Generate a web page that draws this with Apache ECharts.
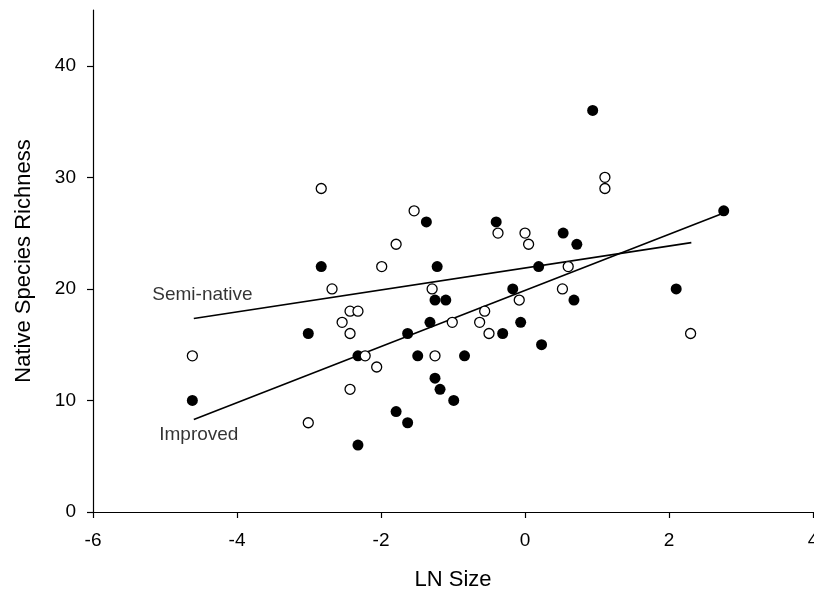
<!DOCTYPE html>
<html>
<head>
<meta charset="utf-8">
<script src="https://cdn.jsdelivr.net/npm/echarts@6/dist/echarts.min.js"></script>
<style>
html,body{margin:0;padding:0;background:#fff;}
#chart{width:814px;height:595px;}
</style>
</head>
<body>
<div id="chart"></div>
<script>
// Improved pastures (filled circles): [LN Size, Native Species Richness]
const improvedPoints = [
  [-4.62,10],[-3.01,16],[-2.83,22],[-2.32,14],[-2.32,6],[-1.79,9],[-1.63,8],[-1.63,16],
  [-1.49,14],[-1.37,26],[-1.32,17],[-1.25,19],[-1.25,12],[-1.22,22],[-1.18,11],[-1.10,19],
  [-0.99,10],[-0.84,14],[-0.40,26],[-0.31,16],[-0.17,20],[-0.06,17],[0.19,22],[0.23,15],
  [0.53,25],[0.68,19],[0.72,24],[0.94,36],[2.10,20],[2.76,27]
];
// Semi-native pastures (open circles)
const semiNativePoints = [
  [-4.62,14],[-3.01,8],[-2.83,29],[-2.68,20],[-2.54,17],[-2.43,18],[-2.43,16],[-2.43,11],
  [-2.32,18],[-2.22,14],[-2.06,13],[-1.99,22],[-1.79,24],[-1.54,27],[-1.29,20],[-1.25,14],
  [-1.01,17],[-0.63,17],[-0.56,18],[-0.50,16],[-0.375,25],[-0.08,19],[0.0,25],[0.05,24],
  [0.52,20],[0.60,22],[1.11,30],[1.11,29],[2.30,16]
];
// Regression line end points
const improvedFit = [[-4.6,8.3],[2.76,26.8]];
const semiNativeFit = [[-4.6,17.35],[2.31,24.15]];
// Line labels: [text, x, y]
const lineLabels = [["Semi-native",-4.48,19.5],["Improved",-4.53,6.9]];
// Axes
const xTicks = [-6,-4,-2,0,2,4];
const yTicks = [0,10,20,30,40];
const xRange = [-6,4];
const yRange = [0,45];
const xTitle = "LN Size";
const yTitle = "Native Species Richness";

const FONT = "Liberation Sans, Arial, Helvetica, sans-serif";
const chart = echarts.init(document.getElementById('chart'), null, {renderer:'canvas'});

const axisCommon = {
  axisLine:{show:true,onZero:false,lineStyle:{color:'#000',width:1.2}},
  axisTick:{show:true,inside:false,length:6,lineStyle:{color:'#000',width:1.2}},
  splitLine:{show:false},
  nameLocation:'middle',
  nameTextStyle:{fontFamily:FONT,fontSize:22,color:'#000'}
};

chart.setOption({
  animation:false,
  backgroundColor:'#fff',
  grid:{left:93,right:1,top:10,bottom:83,containLabel:false,outerBoundsMode:'none'},
  xAxis:Object.assign({}, axisCommon, {
    type:'value', min:xRange[0], max:xRange[1], interval:2,
    name:xTitle, nameGap:57,
    axisTick:Object.assign({}, axisCommon.axisTick, {customValues:xTicks}),
    axisLabel:{customValues:xTicks,fontFamily:FONT,fontSize:19,color:'#000',margin:19}
  }),
  yAxis:Object.assign({}, axisCommon, {
    type:'value', min:yRange[0], max:yRange[1], interval:10,
    name:yTitle, nameGap:58, nameRotate:90,
    axisTick:Object.assign({}, axisCommon.axisTick, {customValues:yTicks}),
    axisLabel:{customValues:yTicks,fontFamily:FONT,fontSize:19,color:'#000',margin:17}
  }),
  series:[
    {type:'line',data:semiNativeFit,symbol:'none',lineStyle:{color:'#000',width:1.6},z:1,silent:true},
    {type:'line',data:improvedFit,symbol:'none',lineStyle:{color:'#000',width:1.6},z:1,silent:true},
    {type:'scatter',name:'Improved',data:improvedPoints,symbol:'circle',symbolSize:11,
     itemStyle:{color:'#000',borderColor:'#000',borderWidth:0,opacity:1},z:2},
    {type:'scatter',name:'Semi-native',data:semiNativePoints,symbol:'circle',symbolSize:10,
     itemStyle:{color:'#fff',borderColor:'#000',borderWidth:1.3,opacity:1},z:3},
    {type:'scatter',name:'labels',data:lineLabels.map(l=>({value:[l[1],l[2]],name:l[0]})),
     symbolSize:0,silent:true,z:4,
     label:{show:true,position:[0,0],align:'center',verticalAlign:'middle',formatter:p=>p.name,
            fontFamily:FONT,fontSize:19,color:'#000',textBorderWidth:0}}
  ]
});
</script>
</body>
</html>
